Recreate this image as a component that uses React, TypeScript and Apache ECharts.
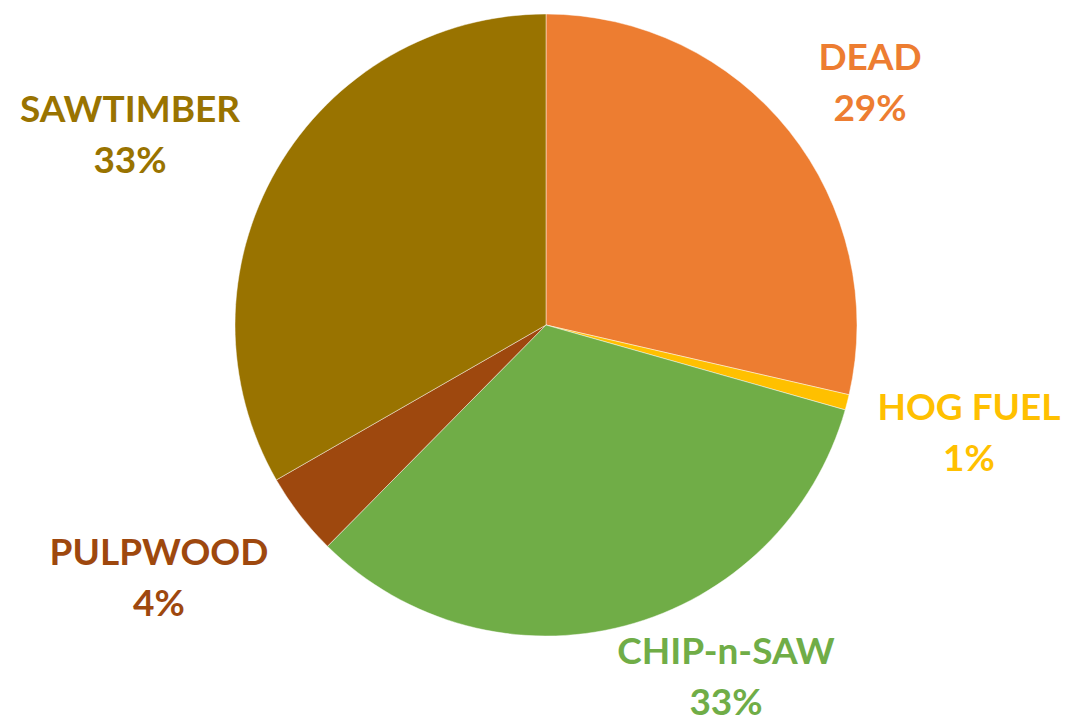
import React, { useEffect, useRef } from "react";
import * as echarts from "echarts";

const categories = ["DEAD", "HOG FUEL", "CHIP-n-SAW", "PULPWOOD", "SAWTIMBER"];
const values = [28.6, 0.8, 33.0, 4.3, 33.3];
const colors = ["#ED7D31", "#FFC000", "#70AD47", "#9E480E", "#997300"];
// label block centres (layout only)
const labelCenters: [number, number][] = [
  [870, 72],
  [969, 422],
  [726, 666],
  [159, 567],
  [130, 124],
];

const font = { fontFamily: "Lato", fontWeight: "bold" as const, fontSize: 37 };

export default function App() {
  const ref = useRef<HTMLDivElement>(null);
  useEffect(() => {
    if (!ref.current) return;
    const chart = echarts.init(ref.current, undefined, { renderer: "svg" });
    chart.setOption({
      animation: false,
      backgroundColor: "#ffffff",
      series: [
        {
          type: "pie",
          center: [546, 325],
          radius: [0, 311],
          startAngle: 90,
          clockwise: true,
          data: categories.map((name, i) => ({
            name,
            value: values[i],
            itemStyle: { color: colors[i] },
            label: {
              color: colors[i],
              rich: {
                n: { ...font, color: colors[i], lineHeight: 68 },
                p: { ...font, color: colors[i], lineHeight: 34 },
              },
            },
          })),
          itemStyle: { borderColor: "rgba(255,255,255,0.45)", borderWidth: 1 },
          label: {
            show: true,
            position: "outside",
            ...font,
            align: "center",
            overflow: "none",
            formatter: (p: any) => `{n|${p.name}}\n{p|${Math.round(p.percent)}%}`,
          },
          labelLine: { show: false },
          labelLayout: (params: any) => {
            const c = labelCenters[params.dataIndex];
            return { x: c[0], y: c[1], align: "center", verticalAlign: "middle" };
          },
          emphasis: { disabled: true },
        },
      ],
    });
    return () => chart.dispose();
  }, []);
  return (
    <div
      ref={ref}
      style={{ position: "absolute", left: 0, top: 0, width: 1068, height: 721 }}
    />
  );
}
